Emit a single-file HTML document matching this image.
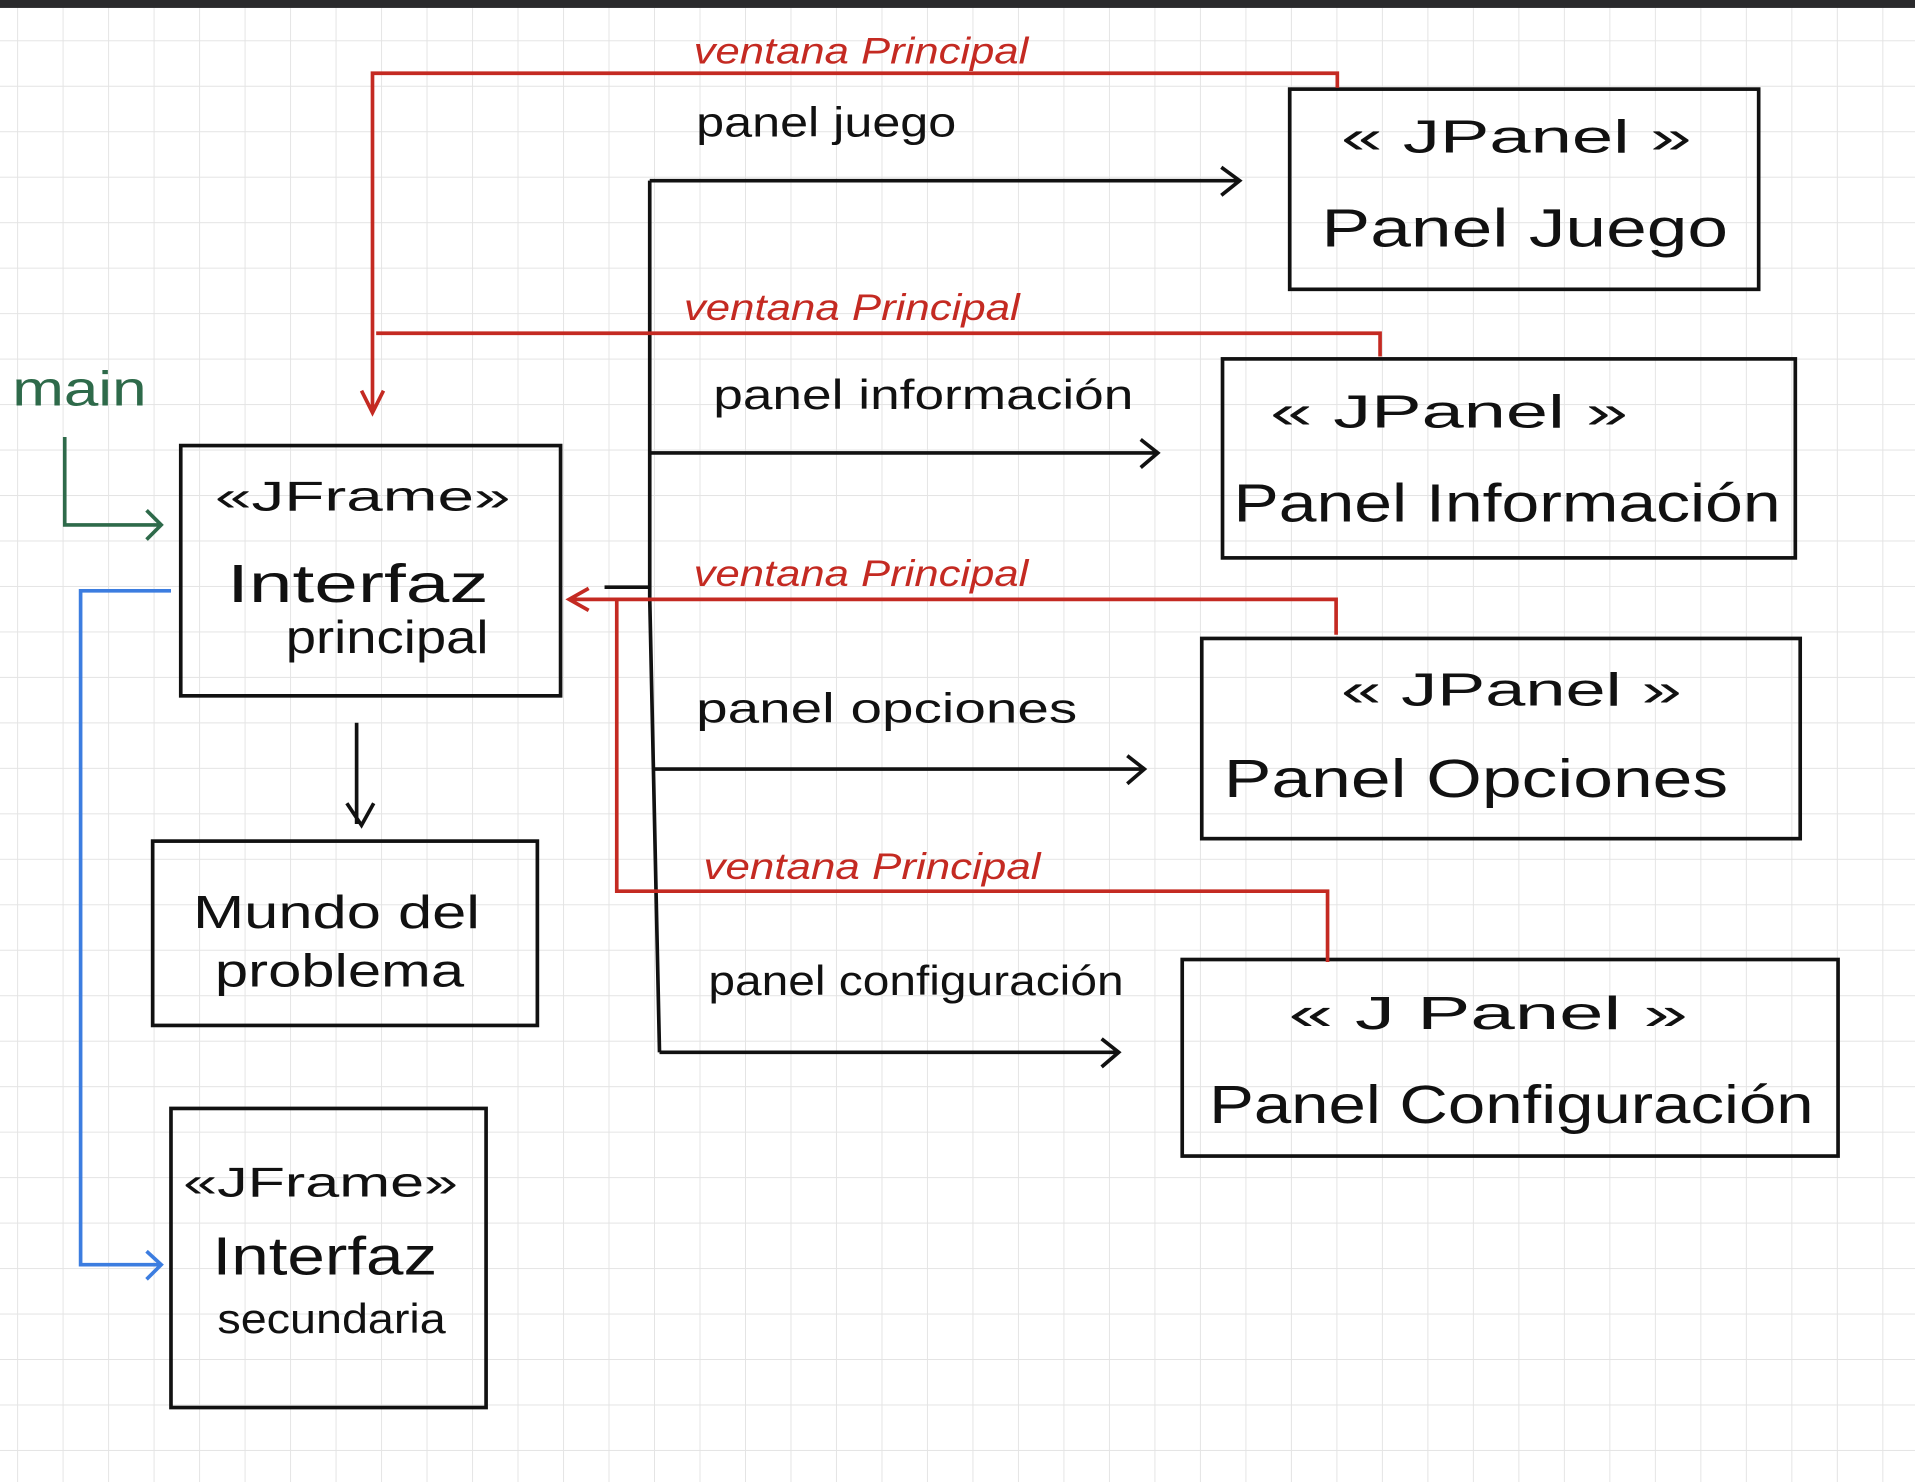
<!DOCTYPE html>
<html><head><meta charset="utf-8"><style>
html,body{margin:0;padding:0;background:#fff;width:1915px;height:1482px;overflow:hidden}
svg{display:block}
text{font-family:"Liberation Sans",sans-serif}
</style></head><body>
<svg width="1915" height="1482" viewBox="0 0 1568 1214" preserveAspectRatio="none">
<defs>
<pattern id="g" x="14" y="33" width="37.25" height="37.25" patternUnits="userSpaceOnUse">
<path d="M0 0V37.25M0 0H37.25" stroke="#e4e4e4" stroke-width="1.6" fill="none"/>
</pattern>
</defs>
<rect width="1568" height="1214" fill="#fff"/>
<rect width="1568" height="1214" fill="url(#g)"/>
<rect width="1568" height="6.5" fill="#2a2a2c"/>

<g fill="none" stroke="#111" stroke-width="3">
<rect x="1056" y="73" width="384" height="164"/>
<rect x="1001" y="294" width="469" height="163"/>
<rect x="984" y="523" width="490" height="164"/>
<rect x="968" y="786" width="537" height="161"/>
<rect x="148" y="365" width="311" height="205"/>
<rect x="125" y="689" width="315" height="151"/>
<rect x="140" y="908" width="258" height="245"/>
<path d="M532 148V490L540 862"/>
<path d="M532 148H1015M1000 137L1015 148L1000 160"/>
<path d="M532 371H948M934 360L948 371L934 383"/>
<path d="M536 630H937M923 619L937 630L923 642"/>
<path d="M540 862H916M902 851L916 862L902 874"/>
<path d="M495 481H532"/>
<path d="M292 592V675M284 658L296 676L306 658"/>
</g>
<g fill="none" stroke="#c42a22" stroke-width="3">
<path d="M1095 72V60H305V336M296 320L305 338L314 320"/>
<path d="M1130 292V273H308"/>
<path d="M1094 520V491H468M482 482L466 491L482 500"/>
<path d="M1087 788V730H505V491"/>
</g>
<g fill="none" stroke="#2e6a4a" stroke-width="3">
<path d="M53 358V430H130M120 418L132 430L120 442"/>
</g>
<g fill="none" stroke="#3c7de0" stroke-width="3">
<path d="M140 484H66V1036H131M120 1025L132 1036L120 1048"/>
</g>

<g fill="#c42a22" font-size="30" font-style="italic" lengthAdjust="spacingAndGlyphs">
<text x="568" y="52" textLength="274" lengthAdjust="spacingAndGlyphs">ventana Principal</text>
<text x="560" y="262" textLength="275" lengthAdjust="spacingAndGlyphs">ventana Principal</text>
<text x="568" y="480" textLength="274" lengthAdjust="spacingAndGlyphs">ventana Principal</text>
<text x="576" y="720" textLength="276" lengthAdjust="spacingAndGlyphs">ventana Principal</text>
</g>
<text x="10" y="332" fill="#2e6a4a" font-size="40" textLength="110" lengthAdjust="spacingAndGlyphs">main</text>
<g fill="#111" font-size="34">
<text x="570" y="112" textLength="213" lengthAdjust="spacingAndGlyphs">panel juego</text>
<text x="584" y="335" textLength="344" lengthAdjust="spacingAndGlyphs">panel  información</text>
<text x="570" y="592" textLength="312" lengthAdjust="spacingAndGlyphs">panel opciones</text>
<text x="580" y="815" textLength="340" lengthAdjust="spacingAndGlyphs">panel configuración</text>
</g>
<g fill="#111" font-size="38">
<text x="1098" y="125" textLength="287" lengthAdjust="spacingAndGlyphs">« JPanel »</text>
<text x="1082" y="202" font-size="44" textLength="333" lengthAdjust="spacingAndGlyphs">Panel  Juego</text>
<text x="1040" y="350" textLength="293" lengthAdjust="spacingAndGlyphs">« JPanel »</text>
<text x="1010" y="427" font-size="44" textLength="448" lengthAdjust="spacingAndGlyphs">Panel  Información</text>
<text x="1098" y="578" textLength="279" lengthAdjust="spacingAndGlyphs">« JPanel »</text>
<text x="1002" y="653" font-size="44" textLength="413" lengthAdjust="spacingAndGlyphs">Panel  Opciones</text>
<text x="1055" y="843" textLength="327" lengthAdjust="spacingAndGlyphs">« J Panel »</text>
<text x="990" y="920" font-size="44" textLength="495" lengthAdjust="spacingAndGlyphs">Panel Configuración</text>
<text x="176" y="418" font-size="34" textLength="242" lengthAdjust="spacingAndGlyphs">«JFrame»</text>
<text x="186" y="493" font-size="44" textLength="214" lengthAdjust="spacingAndGlyphs">Interfaz</text>
<text x="234" y="535" textLength="166" lengthAdjust="spacingAndGlyphs">principal</text>
<text x="158" y="760" textLength="235" lengthAdjust="spacingAndGlyphs">Mundo  del</text>
<text x="176" y="808" textLength="204" lengthAdjust="spacingAndGlyphs">problema</text>
<text x="150" y="980" font-size="34" textLength="225" lengthAdjust="spacingAndGlyphs">«JFrame»</text>
<text x="174" y="1044" font-size="44" textLength="184" lengthAdjust="spacingAndGlyphs">Interfaz</text>
<text x="178" y="1092" font-size="34" textLength="187" lengthAdjust="spacingAndGlyphs">secundaria</text>
</g>
</svg>
</body></html>
